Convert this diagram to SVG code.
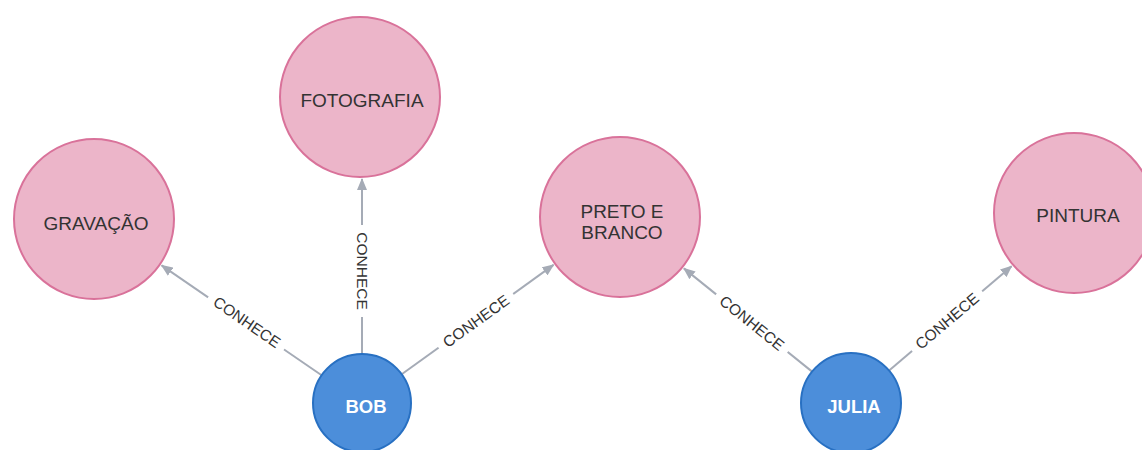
<svg xmlns="http://www.w3.org/2000/svg" width="1142" height="450" viewBox="0 0 1142 450">
  <style>
    .topic circle { fill: #ecb5c9; stroke: #d9729a; stroke-width: 2; }
    .person circle { fill: #4c8eda; stroke: #2870c2; stroke-width: 2; }
    .topic text { font-family: "Liberation Sans", Arial, sans-serif; font-size: 19px; fill: #333333; text-anchor: middle; }
    .person text { font-family: "Liberation Sans", Arial, sans-serif; font-size: 18.5px; font-weight: bold; fill: #ffffff; text-anchor: middle; }
    .rel line { stroke: #a5abb6; stroke-width: 2; marker-end: url(#arrow); }
    .rel rect { fill: #ffffff; }
    .rel text { font-family: "Liberation Sans", Arial, sans-serif; font-size: 15.5px; fill: #333333; text-anchor: middle; }
  </style>
  <defs>
    <marker id="arrow" markerUnits="userSpaceOnUse" markerWidth="12" markerHeight="10" viewBox="0 0 12 10" refX="11" refY="5" orient="auto">
      <path d="M0,0 L12,5 L0,10 Z" fill="#a5abb6"/>
    </marker>
  </defs>

  <rect width="1142" height="450" fill="#ffffff"/>

  <!-- relationships -->
  <g id="connectors" class="rel">
    <line x1="321.6" y1="375.3" x2="161.6" y2="265.4"/>
    <g transform="translate(247,322) rotate(34.5)">
      <rect x="-46" y="-9" width="92" height="18"/>
      <text y="5.5">CONHECE</text>
    </g>

    <line x1="362" y1="354" x2="362" y2="179"/>
    <g transform="translate(362,271) rotate(90)">
      <rect x="-46" y="-9" width="92" height="18"/>
      <text y="5.5">CONHECE</text>
    </g>

    <line x1="401.7" y1="374.3" x2="553.5" y2="264.9"/>
    <g transform="translate(476,321) rotate(-35.8)">
      <rect x="-46" y="-9" width="92" height="18"/>
      <text y="5.5">CONHECE</text>
    </g>

    <line x1="812.1" y1="371.6" x2="683.9" y2="268.4"/>
    <g transform="translate(752,323) rotate(38.85)">
      <rect x="-46" y="-9" width="92" height="18"/>
      <text y="5.5">CONHECE</text>
    </g>

    <line x1="889.1" y1="370.6" x2="1011.6" y2="266.2"/>
    <g transform="translate(947,321) rotate(-40.4)">
      <rect x="-46" y="-9" width="92" height="18"/>
      <text y="5.5">CONHECE</text>
    </g>
  </g>

  <!-- topic nodes -->
  <g id="gravacao" class="topic">
    <circle cx="94" cy="219" r="80"/>
    <text x="96" y="230">GRAVAÇÃO</text>
  </g>
  <g id="fotografia" class="topic">
    <circle cx="360" cy="97" r="80"/>
    <text x="362" y="107">FOTOGRAFIA</text>
  </g>
  <g id="preto-e-branco" class="topic">
    <circle cx="620" cy="217" r="80"/>
    <text x="622" y="218">PRETO E</text>
    <text x="622" y="239">BRANCO</text>
  </g>
  <g id="pintura" class="topic">
    <circle cx="1074" cy="213" r="80"/>
    <text x="1078" y="222">PINTURA</text>
  </g>

  <!-- person nodes -->
  <g id="bob" class="person">
    <circle cx="362" cy="403" r="49"/>
    <text x="366" y="413">BOB</text>
  </g>
  <g id="julia" class="person">
    <circle cx="851" cy="403" r="50"/>
    <text x="854" y="413">JULIA</text>
  </g>
</svg>
